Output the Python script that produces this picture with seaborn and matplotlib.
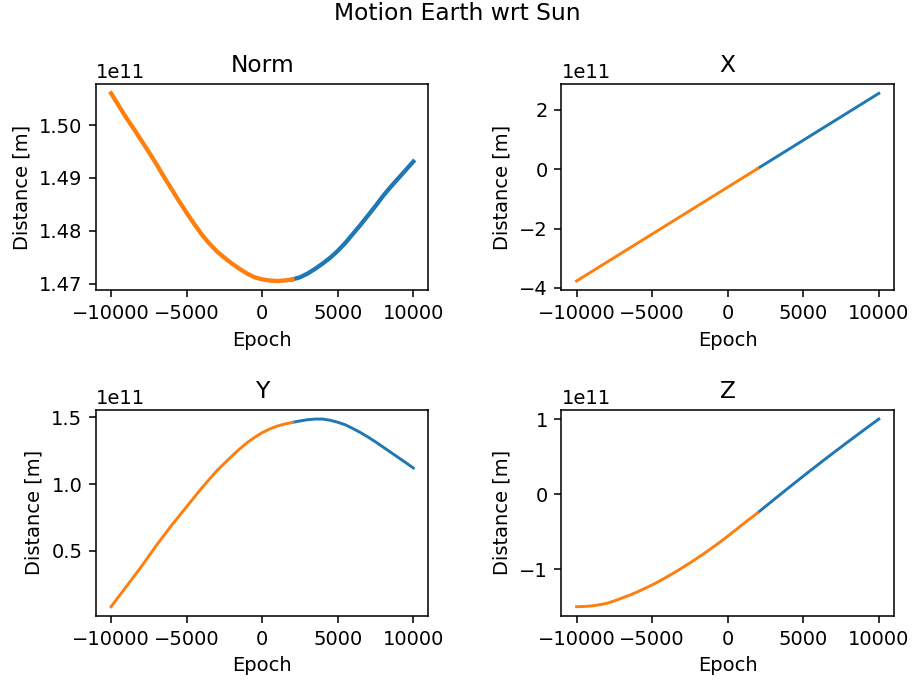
import numpy as np
import pandas as pd
import matplotlib
matplotlib.use("Agg")
import matplotlib.pyplot as plt
import seaborn as sns

# epochs and positions (distances in units of 1e11 m)
epoch = [-10000, -9500, -9000, -8500, -8000, -7500, -7000, -6500, -6000, -5500, -5000,
         -4500, -4000, -3500, -3000, -2500, -2000, -1500, -1000, -500, 0,
         500, 1000, 1500, 2000, 2500, 3000, 3500, 4000, 4500, 5000,
         5500, 6000, 6500, 7000, 7500, 8000, 8500, 9000, 9500, 10000]
norm = [1.5060, 1.5037, 1.5014, 1.4993, 1.4971, 1.4949, 1.4926, 1.4902, 1.4879, 1.4856, 1.4834,
        1.4813, 1.4793, 1.4776, 1.4761, 1.4749, 1.4738, 1.4728, 1.4719, 1.4712, 1.4708,
        1.4706, 1.4705, 1.4706, 1.4708, 1.4712, 1.4719, 1.4728, 1.4738, 1.4749, 1.4762,
        1.4777, 1.4794, 1.4811, 1.4829, 1.4847, 1.4866, 1.4883, 1.4899, 1.4915, 1.4931]
pos_x = [-3.770, -3.612, -3.454, -3.295, -3.137, -2.979, -2.821, -2.663, -2.504, -2.346, -2.188,
         -2.030, -1.871, -1.713, -1.555, -1.397, -1.238, -1.080, -0.922, -0.764, -0.605,
         -0.447, -0.289, -0.131, 0.028, 0.186, 0.344, 0.502, 0.661, 0.819, 0.977,
         1.135, 1.294, 1.452, 1.610, 1.768, 1.927, 2.085, 2.243, 2.401, 2.560]
pos_y = [0.08, 0.155, 0.23, 0.305, 0.38, 0.46, 0.54, 0.615, 0.69, 0.76, 0.83,
         0.90, 0.97, 1.035, 1.10, 1.155, 1.21, 1.262, 1.31, 1.35, 1.385,
         1.413, 1.435, 1.450, 1.462, 1.473, 1.482, 1.487, 1.487, 1.478, 1.463,
         1.444, 1.416, 1.386, 1.352, 1.316, 1.277, 1.238, 1.199, 1.16, 1.12]
pos_z = [-1.50, -1.497, -1.49, -1.475, -1.455, -1.423, -1.385, -1.347, -1.305, -1.258, -1.21,
         -1.157, -1.10, -1.042, -0.98, -0.917, -0.85, -0.782, -0.71, -0.637, -0.56,
         -0.482, -0.40, -0.323, -0.245, -0.163, -0.081, 0.0, 0.081, 0.161, 0.241,
         0.32, 0.398, 0.476, 0.553, 0.629, 0.705, 0.78, 0.855, 0.929, 1.003]
split_epoch = 2000

scale = 1e11
dpi = 140
fig, axes = plt.subplots(2, 2, figsize=(914 / dpi, 680 / dpi), dpi=dpi)
fig.subplots_adjust(left=0.105, right=0.978, top=0.8765, bottom=0.094, wspace=0.40, hspace=0.578)
fig.suptitle("Motion Earth wrt Sun", y=0.997)

panels = [("Norm", norm, axes[0, 0], 2.2),
          ("X", pos_x, axes[0, 1], 1.5),
          ("Y", pos_y, axes[1, 0], 1.5),
          ("Z", pos_z, axes[1, 1], 1.5)]

for name, vals, ax, lw in panels:
    df = pd.DataFrame({"Epoch": epoch, "Distance": np.array(vals) * scale})
    fwd = df[df["Epoch"] >= split_epoch]
    bwd = df[df["Epoch"] <= split_epoch]
    sns.lineplot(data=fwd, x="Epoch", y="Distance", ax=ax, color="C0", linewidth=lw)
    sns.lineplot(data=bwd, x="Epoch", y="Distance", ax=ax, color="C1", linewidth=lw)
    ax.set_title(name)
    ax.set_xlabel("Epoch")
    ax.set_ylabel("Distance [m]")
    ax.set_xticks([-10000, -5000, 0, 5000, 10000])

fig.savefig("out.png", dpi=dpi)
